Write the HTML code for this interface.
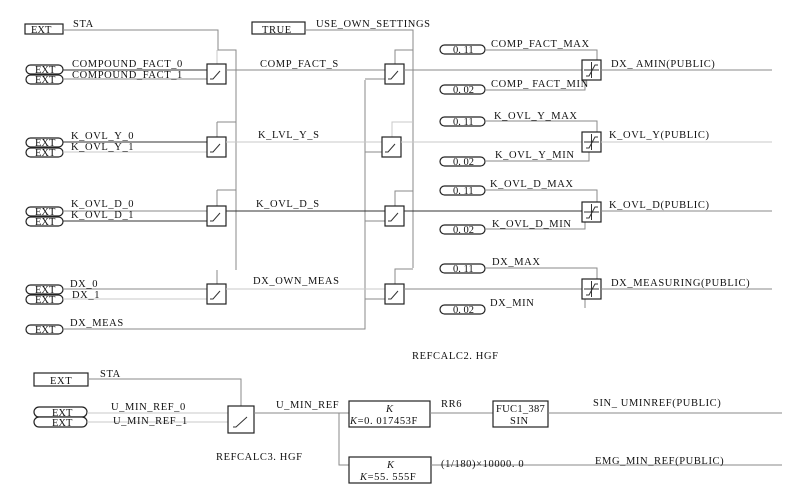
<!DOCTYPE html>
<html><head><meta charset="utf-8"><style>
html,body{margin:0;padding:0;background:#fff;}
svg{display:block;}
text{font-family:"Liberation Serif","Noto Serif CJK SC",serif;font-size:10.5px;fill:#111;letter-spacing:0.6px;}
.g{stroke:#8a8a8a;stroke-width:1;fill:none;}
.l{stroke:#c8c8c8;stroke-width:1;fill:none;}
.d{stroke:#333;stroke-width:1;fill:none;}
.b{stroke:#222;stroke-width:1.2;fill:#fff;}
.p text{letter-spacing:0;}
</style></head><body>
<svg width="803" height="497" viewBox="0 0 803 497" xmlns="http://www.w3.org/2000/svg">
<defs>
<g id="sw"><rect x="0" y="0" width="19" height="20" class="b"/><polyline points="3,15 6,15 13,7" class="d"/></g>
<g id="lim"><rect x="0" y="0" width="19" height="20" class="b"/><line x1="9.5" y1="2" x2="9.5" y2="18" class="d"/><line x1="2" y1="10" x2="17" y2="10" class="d"/><polyline points="4,16 7,16 13,5 16,5" class="d"/></g>
</defs>

<rect x="25" y="24" width="38" height="10" class="b"/><text x="31" y="33" style="letter-spacing:0">EXT</text>
<text x="73" y="27">STA</text>
<polyline points="63,30 218,30 218,50 236,50 236,270" class="g"/>
<rect x="252" y="22" width="53" height="12" class="b"/><text x="262" y="33">TRUE</text>
<text x="316" y="27">USE_OWN_SETTINGS</text>
<polyline points="305,30 413,30 413,268" class="g"/>

<g fill="#fff" stroke="#222" stroke-width="1.2">
<rect x="26" y="65" width="37" height="9" rx="4.5"/><rect x="26" y="75" width="37" height="9" rx="4.5"/>
<rect x="26" y="138" width="37" height="9" rx="4.5"/><rect x="26" y="148" width="37" height="9" rx="4.5"/>
<rect x="26" y="207" width="37" height="9" rx="4.5"/><rect x="26" y="217" width="37" height="9" rx="4.5"/>
<rect x="26" y="285" width="37" height="9" rx="4.5"/><rect x="26" y="295" width="37" height="9" rx="4.5"/>
<rect x="26" y="325" width="37" height="9" rx="4.5"/>
</g>
<g class="p" font-size="10">
<text x="35" y="73">EXT</text><text x="35" y="83">EXT</text>
<text x="35" y="146">EXT</text><text x="35" y="156">EXT</text>
<text x="35" y="215">EXT</text><text x="35" y="225">EXT</text>
<text x="35" y="293">EXT</text><text x="35" y="303">EXT</text>
<text x="35" y="333">EXT</text>
</g>

<line x1="63" y1="70" x2="207" y2="70" class="d"/><line x1="63" y1="79" x2="207" y2="79" class="g"/>
<line x1="63" y1="142" x2="207" y2="142" class="d"/><line x1="63" y1="152" x2="207" y2="152" class="l"/>
<line x1="63" y1="211" x2="207" y2="211" class="g"/><line x1="63" y1="221" x2="207" y2="221" class="d"/>
<line x1="63" y1="289" x2="207" y2="289" class="g"/><line x1="63" y1="299" x2="207" y2="299" class="l"/>
<text x="72" y="67">COMPOUND_FACT_0</text><text x="72" y="78">COMPOUND_FACT_1</text>
<text x="71" y="139">K_OVL_Y_0</text><text x="71" y="150">K_OVL_Y_1</text>
<text x="71" y="207">K_OVL_D_0</text><text x="71" y="218">K_OVL_D_1</text>
<text x="70" y="287">DX_0</text><text x="72" y="298">DX_1</text>
<text x="70" y="326">DX_MEAS</text>
<polyline points="63,329 365,329 365,80" class="g"/>

<polyline points="217,122 236,122" class="g"/><line x1="217" y1="122" x2="217" y2="137" class="g"/>
<polyline points="217,190 236,190" class="g"/><line x1="217" y1="190" x2="217" y2="206" class="g"/>
<polyline points="217,270 217,284" class="g"/><line x1="217" y1="50" x2="217" y2="64" class="l"/>

<use href="#sw" x="207" y="64"/><use href="#sw" x="207" y="137"/><use href="#sw" x="207" y="206"/><use href="#sw" x="207" y="284"/>

<line x1="226" y1="70" x2="385" y2="70" class="g"/>
<line x1="226" y1="142" x2="382" y2="142" class="l"/>
<line x1="226" y1="211" x2="385" y2="211" class="d"/>
<line x1="226" y1="289" x2="385" y2="289" class="l"/>
<text x="260" y="67">COMP_FACT_S</text>
<text x="258" y="138">K_LVL_Y_S</text>
<text x="256" y="207">K_OVL_D_S</text>
<text x="253" y="284">DX_OWN_MEAS</text>

<line x1="365" y1="79" x2="385" y2="79" class="g"/>
<line x1="365" y1="152" x2="382" y2="152" class="g"/>
<line x1="365" y1="221" x2="385" y2="221" class="g"/>
<line x1="365" y1="299" x2="385" y2="299" class="g"/>
<polyline points="395,64 395,50 413,50" class="g"/>
<polyline points="392,137 392,122 413,122" class="l"/>
<polyline points="395,206 395,191 413,191" class="g"/>
<polyline points="395,284 395,269 413,269" class="g"/>
<use href="#sw" x="385" y="64"/><use href="#sw" x="382" y="137"/><use href="#sw" x="385" y="206"/><use href="#sw" x="385" y="284"/>

<line x1="404" y1="70" x2="582" y2="70" class="g"/>
<line x1="401" y1="142" x2="582" y2="142" class="l"/>
<line x1="404" y1="211" x2="582" y2="211" class="d"/>
<line x1="404" y1="289" x2="582" y2="289" class="g"/>

<g fill="#fff" stroke="#222" stroke-width="1.2">
<rect x="440" y="45" width="45" height="9" rx="4.5"/><rect x="440" y="85" width="45" height="9" rx="4.5"/>
<rect x="440" y="117" width="45" height="9" rx="4.5"/><rect x="440" y="157" width="45" height="9" rx="4.5"/>
<rect x="440" y="186" width="45" height="9" rx="4.5"/><rect x="440" y="225" width="45" height="9" rx="4.5"/>
<rect x="440" y="264" width="45" height="9" rx="4.5"/><rect x="440" y="305" width="45" height="9" rx="4.5"/>
</g>
<g class="p" font-size="9.5">
<text x="453" y="53">0. 11</text><text x="453" y="93">0. 02</text>
<text x="453" y="125">0. 11</text><text x="453" y="165">0. 02</text>
<text x="453" y="194">0. 11</text><text x="453" y="233">0. 02</text>
<text x="453" y="272">0. 11</text><text x="453" y="313">0. 02</text>
</g>
<polyline points="485,50 597,50 597,60" class="g"/><polyline points="485,90 585,90 585,80" class="g"/>
<polyline points="485,121 597,121 597,132" class="g"/><polyline points="485,161 589,161 589,151" class="g"/>
<polyline points="485,190 597,190 597,202" class="g"/><polyline points="485,229 585,229 585,221" class="g"/>
<polyline points="485,268 597,268 597,280" class="g"/><line x1="585" y1="299" x2="585" y2="308" class="g"/>
<text x="491" y="47">COMP_FACT_MAX</text><text x="491" y="87">COMP_ FACT_MIN</text>
<text x="494" y="119">K_OVL_Y_MAX</text><text x="495" y="158">K_OVL_Y_MIN</text>
<text x="490" y="187">K_OVL_D_MAX</text><text x="492" y="227">K_OVL_D_MIN</text>
<text x="492" y="265">DX_MAX</text><text x="490" y="306">DX_MIN</text>

<use href="#lim" x="582" y="60"/><use href="#lim" x="582" y="132"/><use href="#lim" x="582" y="202"/><use href="#lim" x="582" y="279"/>
<line x1="601" y1="70" x2="772" y2="70" class="g"/>
<line x1="601" y1="142" x2="772" y2="142" class="l"/>
<line x1="601" y1="211" x2="772" y2="211" class="g"/>
<line x1="601" y1="289" x2="772" y2="289" class="g"/>
<text x="611" y="67">DX_ AMIN(PUBLIC)</text>
<text x="609" y="138">K_OVL_Y(PUBLIC)</text>
<text x="609" y="208">K_OVL_D(PUBLIC)</text>
<text x="611" y="286">DX_MEASURING(PUBLIC)</text>

<text x="412" y="359">REFCALC2. HGF</text>

<rect x="34" y="373" width="54" height="13" class="b"/><text x="50" y="384">EXT</text>
<text x="100" y="377">STA</text>
<polyline points="88,379 241,379 241,406" class="g"/>
<g fill="#fff" stroke="#222" stroke-width="1.2">
<rect x="34" y="407" width="53" height="10" rx="5"/><rect x="34" y="417" width="53" height="10" rx="5"/>
</g>
<g class="p"><text x="52" y="416">EXT</text><text x="52" y="426">EXT</text></g>
<line x1="87" y1="413" x2="228" y2="413" class="l"/><line x1="87" y1="422" x2="228" y2="422" class="l"/>
<text x="111" y="410">U_MIN_REF_0</text><text x="113" y="424">U_MIN_REF_1</text>
<rect x="228" y="406" width="26" height="27" class="b"/><polyline points="233,427 236,427 247,417" class="d"/>
<text x="216" y="460">REFCALC3. HGF</text>
<line x1="254" y1="413" x2="349" y2="413" class="g"/>
<text x="276" y="408">U_MIN_REF</text>
<polyline points="339,413 339,465 349,465" class="g"/>
<rect x="349" y="401" width="81" height="26" class="b"/>
<text x="386" y="412" font-style="italic">K</text>
<text x="350" y="424"><tspan font-style="italic">K</tspan>=0. 017453F</text>
<line x1="430" y1="413" x2="493" y2="413" class="g"/>
<text x="441" y="407">RR6</text>
<rect x="493" y="401" width="55" height="26" class="b"/>
<text x="496" y="412" style="letter-spacing:0.3px">FUC1_387</text><text x="510" y="424">SIN</text>
<line x1="548" y1="413" x2="782" y2="413" class="g"/>
<text x="593" y="406">SIN_ UMINREF(PUBLIC)</text>
<rect x="349" y="457" width="82" height="26" class="b"/>
<text x="387" y="468" font-style="italic">K</text>
<text x="360" y="480"><tspan font-style="italic">K</tspan>=55. 555F</text>
<line x1="431" y1="465" x2="782" y2="465" class="g"/>
<text x="441" y="467">(1/180)×10000. 0</text>
<text x="595" y="464">EMG_MIN_REF(PUBLIC)</text>
</svg>
</body></html>
